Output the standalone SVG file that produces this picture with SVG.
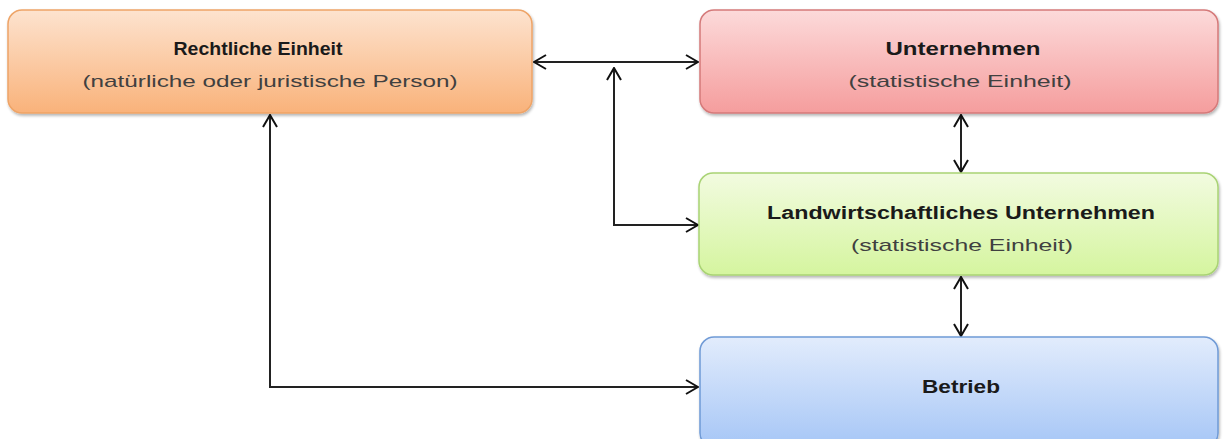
<svg xmlns="http://www.w3.org/2000/svg" width="1223" height="439" viewBox="0 0 1223 439">
<defs>
<linearGradient id="gO" x1="0" y1="0" x2="0" y2="1"><stop offset="0" stop-color="#fde3cf"/><stop offset="1" stop-color="#f9b27a"/></linearGradient>
<linearGradient id="gR" x1="0" y1="0" x2="0" y2="1"><stop offset="0" stop-color="#fcdada"/><stop offset="1" stop-color="#f59d9d"/></linearGradient>
<linearGradient id="gG" x1="0" y1="0" x2="0" y2="1"><stop offset="0" stop-color="#f2fbe0"/><stop offset="1" stop-color="#d5f59f"/></linearGradient>
<linearGradient id="gB" x1="0" y1="0" x2="0" y2="1"><stop offset="0" stop-color="#e2ecfc"/><stop offset="1" stop-color="#a6c6f6"/></linearGradient>
<filter id="sh" x="-5%" y="-10%" width="110%" height="130%"><feGaussianBlur in="SourceAlpha" stdDeviation="1.5"/><feOffset dx="1" dy="2"/><feComponentTransfer><feFuncA type="linear" slope="0.3"/></feComponentTransfer><feMerge><feMergeNode/><feMergeNode in="SourceGraphic"/></feMerge></filter>
<marker id="ah" viewBox="0 0 14 16" refX="13" refY="8" markerWidth="14" markerHeight="16" markerUnits="userSpaceOnUse" orient="auto-start-reverse"><path d="M1,1 L13,8 L1,15" fill="none" stroke="#111" stroke-width="2"/></marker>
</defs>
<style>
.t{font-family:"Liberation Sans",Arial,sans-serif;font-weight:bold;font-size:18px;fill:#1a1a1a;text-anchor:middle}
.s{font-family:"Liberation Sans",Arial,sans-serif;font-size:17px;fill:#404040;text-anchor:middle}
.c{fill:none;stroke:#222;stroke-width:2}
</style>
<rect width="1223" height="439" fill="#fff"/>
<g id="connectors">
<path class="c" d="M534,62 H698" marker-start="url(#ah)" marker-end="url(#ah)"/>
<path class="c" d="M698,225 H614 V68" marker-start="url(#ah)" marker-end="url(#ah)"/>
<path class="c" d="M961,115 V172" marker-start="url(#ah)" marker-end="url(#ah)"/>
<path class="c" d="M961,277 V336" marker-start="url(#ah)" marker-end="url(#ah)"/>
<path class="c" d="M270,115 V387 H698" marker-start="url(#ah)" marker-end="url(#ah)"/>
</g>
<g id="rechtliche">
<rect x="8" y="10" width="524" height="103" rx="14" fill="url(#gO)" stroke="#eea467" stroke-width="1.5" filter="url(#sh)"/>
<text class="t" x="258" y="55" textLength="169" lengthAdjust="spacingAndGlyphs">Rechtliche Einheit</text>
<text class="s" x="270" y="87" textLength="375" lengthAdjust="spacingAndGlyphs">(natürliche oder juristische Person)</text>
</g>
<g id="unternehmen">
<rect x="700" y="10" width="518" height="103" rx="14" fill="url(#gR)" stroke="#d57a7a" stroke-width="1.5" filter="url(#sh)"/>
<text class="t" x="963" y="55" textLength="155" lengthAdjust="spacingAndGlyphs">Unternehmen</text>
<text class="s" x="960" y="87" textLength="223" lengthAdjust="spacingAndGlyphs">(statistische Einheit)</text>
</g>
<g id="landwirtschaftlich">
<rect x="699" y="173" width="519" height="102" rx="14" fill="url(#gG)" stroke="#a9d374" stroke-width="1.5" filter="url(#sh)"/>
<text class="t" x="961" y="219" textLength="388" lengthAdjust="spacingAndGlyphs">Landwirtschaftliches Unternehmen</text>
<text class="s" x="962" y="251" textLength="222" lengthAdjust="spacingAndGlyphs">(statistische Einheit)</text>
</g>
<g id="betrieb">
<rect x="700" y="337" width="518" height="110" rx="14" fill="url(#gB)" stroke="#6f9ad6" stroke-width="1.5" filter="url(#sh)"/>
<text class="t" x="961" y="393" textLength="78" lengthAdjust="spacingAndGlyphs">Betrieb</text>
</g>
</svg>
